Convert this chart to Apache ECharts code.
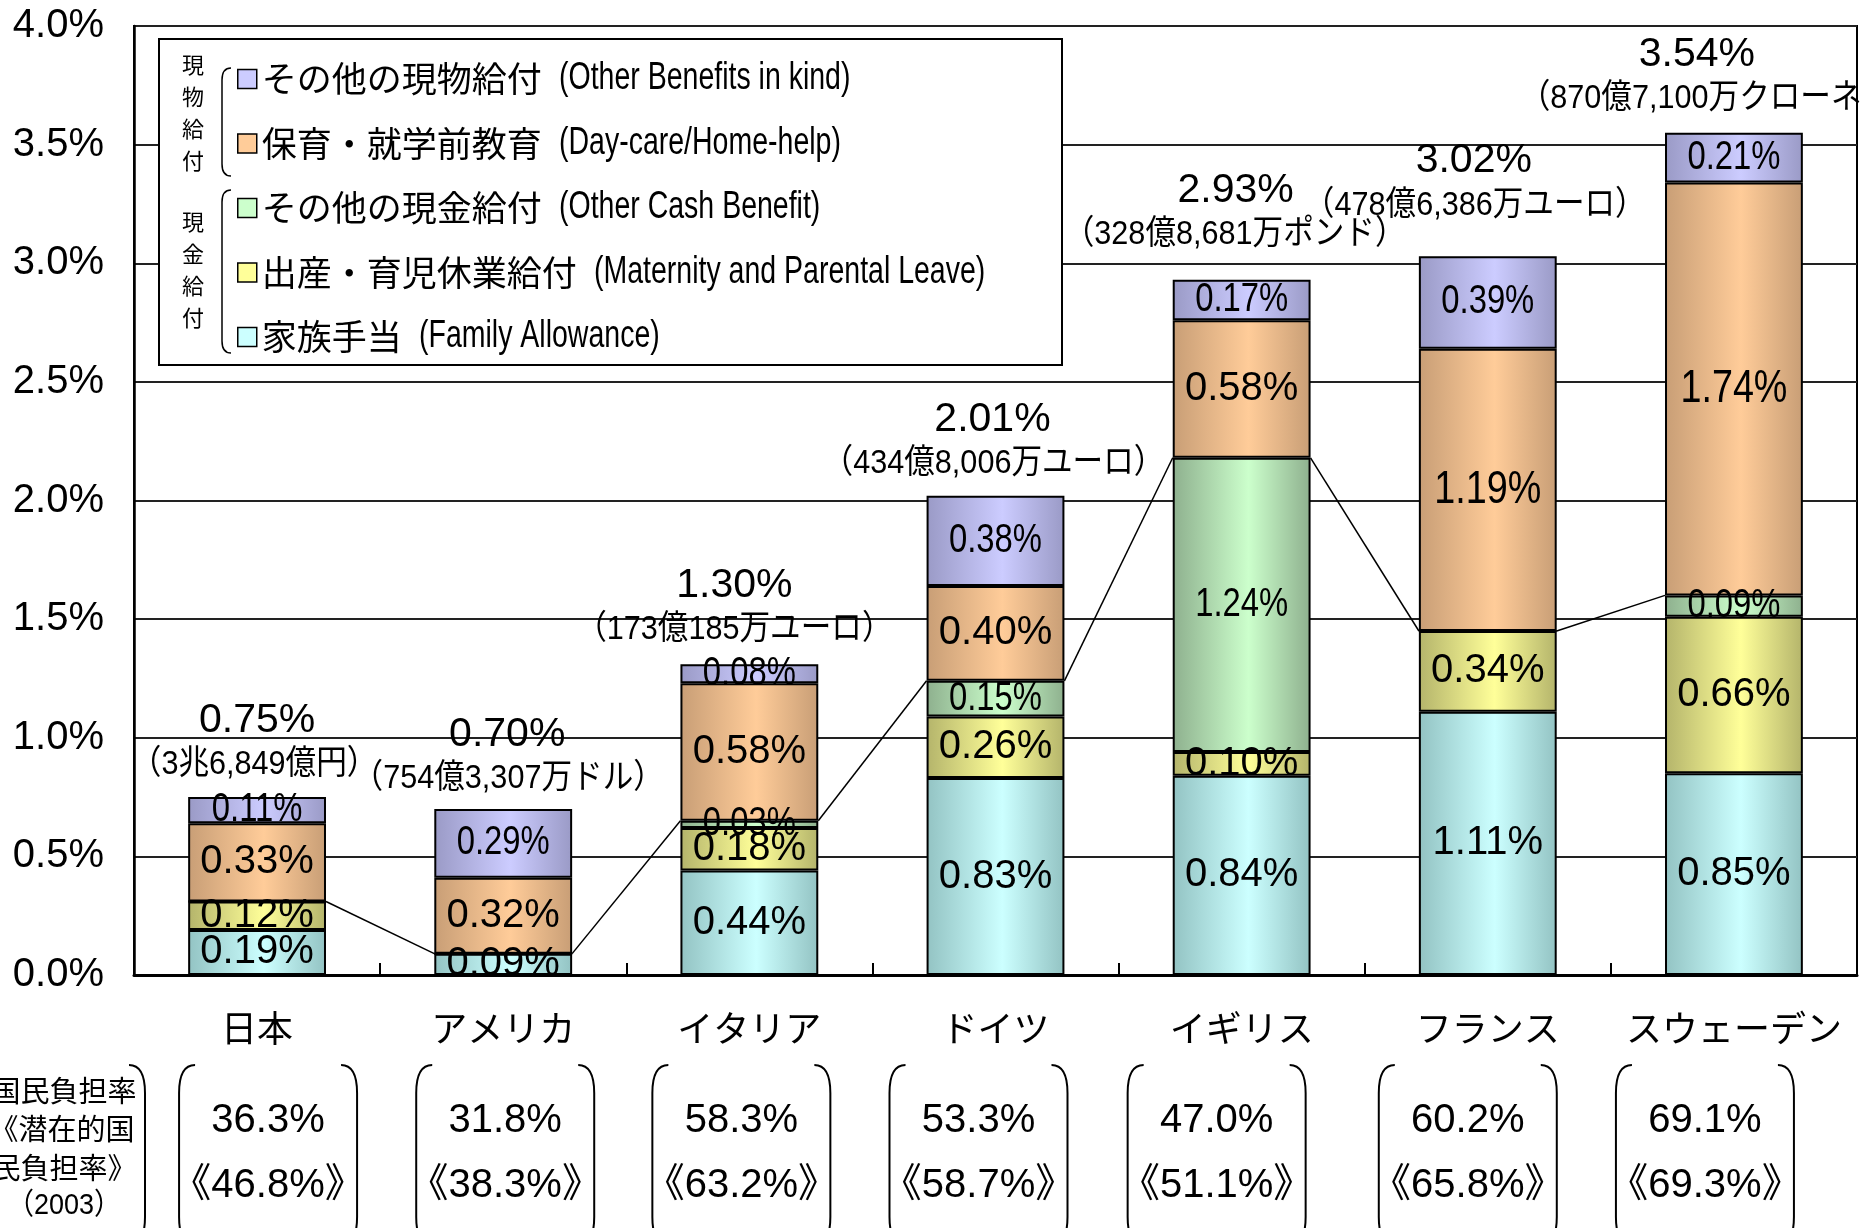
<!DOCTYPE html>
<html><head><meta charset="utf-8">
<script src="https://cdn.jsdelivr.net/npm/echarts@6/dist/echarts.min.js"></script>
<style>html,body{margin:0;padding:0;background:#fff}#c{width:1860px;height:1228px}</style>
</head><body><div id="c"></div>
<script>
// ---- data ----
const categories = ['日本','アメリカ','イタリア','ドイツ','イギリス','フランス','スウェーデン'];
const familyAllowance = [0.19, 0.09, 0.44, 0.83, 0.84, 1.11, 0.85];
const maternityLeave  = [0.12, 0,    0.18, 0.26, 0.10, 0.34, 0.66];
const otherCash       = [0,    0,    0.03, 0.15, 1.24, 0,    0.09];
const dayCare         = [0.33, 0.32, 0.58, 0.40, 0.58, 1.19, 1.74];
const otherInKind     = [0.11, 0.29, 0.08, 0.38, 0.17, 0.39, 0.21];
const totalLabels  = ['0.75%','0.70%','1.30%','2.01%','2.93%','3.02%','3.54%'];
const amountLabels = ['（3兆6,849億円）','（754億3,307万ドル）','（173億185万ユーロ）','（434億8,006万ユーロ）','（328億8,681万ポンド）','（478億6,386万ユーロ）','（870億7,100万クローネ）'];
const burdenRates          = ['36.3%','31.8%','58.3%','53.3%','47.0%','60.2%','69.1%'];
const potentialBurdenRates = ['46.8%','38.3%','63.2%','58.7%','51.1%','65.8%','69.3%'];
const yMin = 0, yMax = 4, yStep = 0.5;

// ---- layout / style constants ----
const CJK = '"Noto Sans CJK JP", sans-serif';
const ARIAL = '"Liberation Sans", Arial, sans-serif';
const ARIAL_CJK = '"Liberation Sans", Arial, "Noto Sans CJK JP", sans-serif';
const BAR_FRAC = 0.56;
const NARROW_SCALE = 0.82;
const labelLift    = [32, 30, 35, 32, 45, 51, 34];
const totalShiftX  = [0, 4, -15, -3, -6, -14, -37];
const amountShiftX = [-3, 5, -15, -2, -7, -13, -28];
const tableShiftX  = [11, 2, -8, -17, -25, -20, -29];
const bigNarrowDayCareIdx = [5, 6];
const LEGEND_LEFT = 237, LEGEND_TOP = 59, LEGEND_ROW = 64.5, LEGEND_CJK = 35;

const seriesDefs = [
  {name:'家族手当', en:'Family Allowance', data: familyAllowance, light:'#CCFFFF', dark:'#93C3C3', narrow:false},
  {name:'出産・育児休業給付', en:'Maternity and Parental Leave', data: maternityLeave, light:'#FFFF99', dark:'#B4B46B', narrow:false},
  {name:'その他の現金給付', en:'Other Cash Benefit', data: otherCash, light:'#CCFFCC', dark:'#8EB08E', narrow:true},
  {name:'保育・就学前教育', en:'Day-care/Home-help', data: dayCare, light:'#FFCC99', dark:'#C89E76', narrow:false},
  {name:'その他の現物給付', en:'Other Benefits in kind', data: otherInKind, light:'#CCCCFF', dark:'#9A9AC6', narrow:true}
];

const stackTop = categories.map((c, i) => seriesDefs.reduce((s, d) => s + d.data[i], 0));
const cashTop = categories.map((c, i) => familyAllowance[i] + maternityLeave[i] + otherCash[i]);

function bracket(x, top, bottom, dir, hook, r, lw) {
  const st = {stroke:'#000', lineWidth: lw, fill:'none'};
  return [
    {type:'bezierCurve', shape:{x1:x + dir*hook, y1:top, cpx1:x, cpy1:top, x2:x, y2:top + r}, style:st, z:6},
    {type:'line', shape:{x1:x, y1:top + r, x2:x, y2:bottom - r}, style:st, z:6},
    {type:'bezierCurve', shape:{x1:x, y1:bottom - r, cpx1:x, cpy1:bottom, x2:x + dir*hook, y2:bottom}, style:st, z:6}
  ];
}

const barSeries = seriesDefs.map(d => ({
  type:'bar', name:d.name, stack:'total', barWidth: (BAR_FRAC*100) + '%',
  data: d.data,
  itemStyle:{
    color:{type:'linear', x:0, y:0, x2:1, y2:0, colorStops:[
      {offset:0, color:d.dark},{offset:0.55, color:d.light},{offset:1, color:d.dark}]},
    borderColor:'#000', borderWidth:2
  },
  label:{show:false},
  emphasis:{disabled:true}, silent:true, z:2
}));

// segment value labels (centred in each stacked segment)
const segItems = [];
categories.forEach((c, i) => {
  let base = 0;
  seriesDefs.forEach((d, si) => {
    const v = d.data[i];
    if (v > 0) segItems.push([i, base + v / 2, si, v]);
    base += v;
  });
});
const segmentLabels = {
  type:'custom', name:'segmentLabels', silent:true, z:4, clip:false,
  data: segItems,
  renderItem(params, api) {
    const i = api.value(0), si = api.value(2), v = api.value(3);
    const p = api.coord([i, api.value(1)]);
    const big = si === 3 && bigNarrowDayCareIdx.includes(i);
    const narrow = seriesDefs[si].narrow || big;
    return {type:'text', x:p[0], y:p[1], scaleX: narrow ? NARROW_SCALE : 1,
      style:{text: v.toFixed(2) + '%', fill:'#000', fontSize: big ? 46 : 40, fontFamily:ARIAL, align:'center', verticalAlign:'middle'}};
  }
};

const seriesLines = {
  type:'custom', name:'seriesLines', silent:true, z:5,
  data: cashTop.slice(0, -1).map((v, i) => [i, v, cashTop[i + 1]]),
  renderItem(params, api) {
    const i = api.value(0);
    const p1 = api.coord([i, api.value(1)]);
    const p2 = api.coord([i + 1, api.value(2)]);
    const hw = api.size([1, 0])[0] * BAR_FRAC / 2;
    return {type:'line', shape:{x1:p1[0] + hw, y1:p1[1], x2:p2[0] - hw, y2:p2[1]},
      style:{stroke:'#000', lineWidth:1.5}};
  }
};

const totalsSeries = {
  type:'custom', name:'totals', silent:true, z:6, clip:false,
  data: stackTop.map((v, i) => [i, v]),
  renderItem(params, api) {
    const i = api.value(0);
    const p = api.coord([i, api.value(1)]);
    const ya = p[1] - labelLift[i];
    return {type:'group', children:[
      {type:'text', x:p[0] + amountShiftX[i], y:ya, scaleX:0.9, style:{text:amountLabels[i], fill:'#000', fontSize:34, fontFamily:ARIAL_CJK, align:'center', verticalAlign:'middle'}},
      {type:'text', x:p[0] + totalShiftX[i], y:ya - 44, style:{text:totalLabels[i], fill:'#000', fontSize:41, fontFamily:ARIAL, align:'center', verticalAlign:'middle'}}
    ]};
  }
};

const tableSeries = {
  type:'custom', name:'table', silent:true, z:6, clip:false,
  data: categories.map((c, i) => [i, 0]),
  renderItem(params, api) {
    const i = api.value(0);
    const p = api.coord([i, 0]);
    const cx = p[0] + tableShiftX[i];
    const top = p[1] + 90, bottom = p[1] + 270;
    return {type:'group', children:[
      ...bracket(cx - 89, top, bottom, 1, 16, 28, 2),
      ...bracket(cx + 89, top, bottom, -1, 16, 28, 2),
      {type:'text', x:cx, y:p[1] + 146, style:{text:burdenRates[i], fill:'#000', fontSize:40, fontFamily:ARIAL, align:'center', verticalAlign:'middle'}},
      {type:'text', x:cx, y:p[1] + 211, style:{text:'《' + potentialBurdenRates[i] + '》', fill:'#000', fontSize:40, fontFamily:ARIAL_CJK, align:'center', verticalAlign:'middle'}}
    ]};
  }
};

const legendOrder = seriesDefs.slice().reverse();
const legendEnglish = legendOrder.map((d, k) => ({
  type:'text', z:12,
  x: LEGEND_LEFT + 19 + 5 + [...d.name].length * LEGEND_CJK + 18,
  y: LEGEND_TOP + 20 + k * LEGEND_ROW,
  scaleX: 0.75,
  style:{text: '(' + d.en + ')', fontSize:38, fontFamily:ARIAL, fill:'#000', align:'left', verticalAlign:'middle'}
}));

const graphicEls = [
  {type:'rect', shape:{x:159, y:39, width:903, height:326}, style:{fill:'#fff', stroke:'#000', lineWidth:2}, z:3},
  {type:'text', x:193, y:49, style:{text:'現\n物\n給\n付', fontSize:22, lineHeight:32, fontFamily:CJK, fill:'#000', align:'center', verticalAlign:'top'}, z:6},
  {type:'text', x:193, y:206, style:{text:'現\n金\n給\n付', fontSize:22, lineHeight:32, fontFamily:CJK, fill:'#000', align:'center', verticalAlign:'top'}, z:6},
  ...bracket(222, 68, 176, 1, 9, 12, 1.5),
  ...bracket(222, 190, 353, 1, 9, 12, 1.5),
  ...legendEnglish,
  {type:'text', x:64, y:1091, style:{text:'国民負担率', fontSize:29, fontFamily:CJK, fill:'#000', align:'center', verticalAlign:'middle'}, z:6},
  {type:'text', x:62, y:1129, style:{text:'《潜在的国', fontSize:29, fontFamily:CJK, fill:'#000', align:'center', verticalAlign:'middle'}, z:6},
  {type:'text', x:64, y:1168, style:{text:'民負担率》', fontSize:29, fontFamily:CJK, fill:'#000', align:'center', verticalAlign:'middle'}, z:6},
  {type:'text', x:64, y:1206, scaleX:0.9, style:{text:'（2003）', fontSize:30, fontFamily:ARIAL_CJK, fill:'#000', align:'center', verticalAlign:'middle'}, z:6},
  ...bracket(145, 1065, 1245, -1, 16, 28, 2)
];

const chart = echarts.init(document.getElementById('c'), null, {renderer:'canvas'});
chart.setOption({
  animation:false,
  backgroundColor:'#fff',
  grid:{left:134, right:3, top:26, bottom:253, show:true, borderColor:'#000', borderWidth:2, backgroundColor:'transparent'},
  legend:{
    orient:'vertical', left:LEGEND_LEFT, top:LEGEND_TOP, padding:0, itemGap:LEGEND_ROW - 40, itemWidth:19, itemHeight:19,
    selectedMode:false, z:10, icon:'rect',
    data: legendOrder.map(d => ({name:d.name, itemStyle:{color:d.light, borderColor:'#000', borderWidth:1.5}})),
    formatter: name => name,
    textStyle:{color:'#000', fontFamily:CJK, fontSize:LEGEND_CJK, lineHeight:40, height:40}
  },
  xAxis:{
    type:'category', data:categories,
    axisLine:{show:true, lineStyle:{color:'#000', width:3}},
    axisTick:{show:true, inside:true, length:12, interval:0, lineStyle:{color:'#000', width:2}},
    axisLabel:{color:'#000', fontSize:36, fontFamily:CJK, margin:35, interval:0}
  },
  yAxis:{
    type:'value', min:yMin, max:yMax, interval:yStep,
    axisLine:{show:true, lineStyle:{color:'#000', width:2.5}},
    axisTick:{show:false},
    splitLine:{show:true, lineStyle:{color:'#222', width:2}},
    axisLabel:{color:'#000', fontSize:40, fontFamily:ARIAL, margin:30, formatter: v => v.toFixed(1) + '%'}
  },
  graphic:{elements: graphicEls},
  series:[...barSeries, segmentLabels, seriesLines, totalsSeries, tableSeries]
});
</script>
</body></html>
